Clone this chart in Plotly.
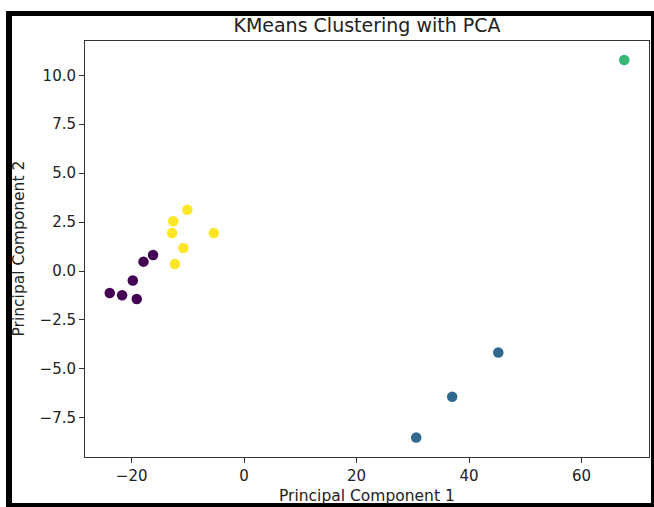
import plotly.graph_objects as go

# Data
cluster0_x = [-16.2, -17.9, -19.8, -23.9, -21.7, -19.1]
cluster0_y = [0.82, 0.48, -0.48, -1.12, -1.24, -1.43]
cluster1_x = [45.2, 37.0, 30.6]
cluster1_y = [-4.16, -6.42, -8.50]
cluster2_x = [67.6]
cluster2_y = [10.78]
cluster3_x = [-10.1, -12.6, -12.8, -5.4, -10.8, -12.3]
cluster3_y = [3.13, 2.54, 1.94, 1.94, 1.18, 0.36]
cluster_colors = ["#440154", "#31688e", "#35b779", "#fde725"]

x_ticks = [-20, 0, 20, 40, 60]
y_ticks = [-7.5, -5.0, -2.5, 0.0, 2.5, 5.0, 7.5, 10.0]
y_tick_text = ["\u22127.5", "\u22125.0", "\u22122.5", "0.0", "2.5", "5.0", "7.5", "10.0"]
x_tick_text = ["\u221220", "0", "20", "40", "60"]

W, H = 654, 507
L, R, T, B = 85, 649, 41, 457

fig = go.Figure()
for xs, ys, c in zip([cluster0_x, cluster1_x, cluster2_x, cluster3_x],
                     [cluster0_y, cluster1_y, cluster2_y, cluster3_y],
                     cluster_colors):
    fig.add_trace(go.Scatter(x=xs, y=ys, mode="markers",
                             marker=dict(color=c, size=10.5, line=dict(width=0)),
                             showlegend=False))

def px_x(p):
    return (p - L) / (R - L)

def px_y(p):
    return (B - p) / (B - T)

shapes = []
for (x0, x1, y0, y1) in [(6, 12, 11, 507), (6, 660, 11, 16), (651, 660, 11, 507), (6, 660, 503, 510)]:
    shapes.append(dict(type="rect", xref="paper", yref="paper",
                       x0=px_x(x0), x1=px_x(x1), y0=px_y(y1), y1=px_y(y0),
                       fillcolor="black", line=dict(width=0), layer="above"))

tick_font = dict(family="DejaVu Sans", size=15, color="#222222")
label_font = dict(family="DejaVu Sans", size=15.5, color="#222222")

fig.update_layout(
    width=W, height=H,
    margin=dict(l=L, r=W - R, t=T, b=H - B),
    paper_bgcolor="white", plot_bgcolor="white",
    font=tick_font,
    title=dict(text="KMeans Clustering with PCA", x=(L + R) / 2 / W, xanchor="center",
               y=1 - 25 / H, yanchor="middle", yref="container",
               font=dict(family="DejaVu Sans", size=19, color="#222222")),
    shapes=shapes,
    annotations=[
        dict(text="Principal Component 1", xref="paper", yref="paper", x=0.5, y=px_y(496),
             xanchor="center", yanchor="middle", showarrow=False, font=label_font),
        dict(text="Principal Component 2", xref="paper", yref="paper", x=px_x(18.5), y=0.5,
             xanchor="center", yanchor="middle", showarrow=False, textangle=-90, font=label_font),
    ],
)
fig.update_xaxes(range=[-28.3, 72.0], tickvals=x_ticks, ticktext=x_tick_text,
                 showgrid=False, zeroline=False, showline=True, linecolor="#333", linewidth=1,
                 mirror=True, ticks="outside", ticklen=5, tickcolor="#333")
fig.update_yaxes(range=[-9.5, 11.75], tickvals=y_ticks, ticktext=y_tick_text,
                 showgrid=False, zeroline=False, showline=True, linecolor="#333", linewidth=1,
                 mirror=True, ticks="outside", ticklen=5, tickcolor="#333")

fig.write_html("out.html", config={"displayModeBar": False},
               post_script="document.body.style.margin='0px';document.body.style.overflow='hidden';")
